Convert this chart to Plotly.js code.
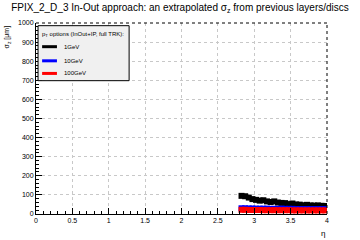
<!DOCTYPE html>
<html><head><meta charset="utf-8">
<script src="https://cdn.plot.ly/plotly-3.0.1.min.js"></script>
<style>html,body{margin:0;padding:0;background:#fff}#c{width:360px;height:240px}</style>
</head><body><div id="c"></div>
<script>
const eta = [2.825,2.875,2.925,2.975,3.025,3.075,3.125,3.175,3.225,3.275,3.325,3.375,3.425,3.475,3.525,3.575,3.625,3.675,3.725,3.775,3.825,3.875,3.925,3.975];
const sig1GeV = [95,93,86,78,74,70,72,66,63,66,60,58,57,52,55,50,49,46,48,45,44,45,43,42];
const sig10GeV = [30,30,29,29,28,28,28,28,27,27,27,28,27,27,27,26,26,26,26,26,26,26,26,26];
const sig100GeV = [22,22,21,21,21,21,20,20,20,20,20,20,20,20,19,19,19,19,19,19,19,19,19,19];
const seriesNames = ['1GeV','10GeV','100GeV'];
const colors = ['#000000','#0000ff','#ff0000'];
const ys = [sig1GeV, sig10GeV, sig100GeV];
const legendTitle = 'p<sub>T</sub> options (InOut+IP, full TRK):';

const FONT = 'Liberation Sans, Arial, sans-serif';
const traces = ys.map((y,i)=>({
  x: eta, y: y, name: seriesNames[i], type:'scatter', mode:'markers',
  marker:{symbol:'square', size:6, color:colors[i], line:{width:0}},
  showlegend:false
}));

const axBase = {
  showline:true, linecolor:'#000', linewidth:1, mirror:false,
  ticks:'inside', ticklen:6, tickcolor:'#000', tickwidth:1,
  showgrid:true, gridcolor:'#c8c8c8', griddash:'dot', gridwidth:1,
  zeroline:false, tickfont:{family:FONT, size:7, color:'#000'}
};

// manual legend (paper coords)
const legBox = {x0:0.007, x1:0.32, y0:0.698, y1:0.986};
const legLineX = [0.021, 0.072];
const legTextX = 0.088;
const legY = [0.876, 0.802, 0.736];

const shapes = [
  {type:'line', xref:'paper', yref:'paper', x0:0, x1:1, y0:1, y1:1, line:{color:'#000', width:1, dash:'dot'}},
  {type:'line', xref:'paper', yref:'paper', x0:1, x1:1, y0:0, y1:1, line:{color:'#000', width:1, dash:'dot'}},
  {type:'rect', xref:'paper', yref:'paper', x0:legBox.x0, x1:legBox.x1, y0:legBox.y0, y1:legBox.y1,
    fillcolor:'#f0f0f0', line:{color:'#000', width:1}, layer:'above'}
];
const annotations = [
  {text:'σ<sub>z</sub> [μm]', xref:'paper', yref:'paper', x:-0.1, y:1, xanchor:'center', yanchor:'top', textangle:-90, showarrow:false,
    font:{family:FONT, size:7, color:'#000'}},
  {text:'η', xref:'paper', yref:'paper', x:1, y:-0.07, xanchor:'right', yanchor:'top', showarrow:false,
    font:{family:FONT, size:8, color:'#000'}},
  {text:legendTitle, xref:'paper', yref:'paper', x:0.014, y:0.942, xanchor:'left', yanchor:'middle', showarrow:false,
    font:{family:FONT, size:6, color:'#000'}}
];
seriesNames.forEach((n,i)=>{
  shapes.push({type:'line', xref:'paper', yref:'paper', x0:legLineX[0], x1:legLineX[1], y0:legY[i], y1:legY[i],
    line:{color:colors[i], width:3}, layer:'above'});
  annotations.push({text:n, xref:'paper', yref:'paper', x:legTextX, y:legY[i], xanchor:'left', yanchor:'middle', showarrow:false,
    font:{family:FONT, size:6, color:'#000'}});
});

const layout = {
  width:360, height:240,
  margin:{l:36, r:33, t:23, b:26},
  paper_bgcolor:'#fff', plot_bgcolor:'#fff',
  title:{text:'FPIX_2_D_3 In-Out approach: an extrapolated σ<sub>z</sub> from previous layers/discs',
    font:{family:FONT, size:10, color:'#000'}, x:0.5, xanchor:'center', y:0.985, yanchor:'top'},
  xaxis: Object.assign({}, axBase, {range:[0,4], dtick:0.5, tick0:0,
    minor:{ticks:'inside', ticklen:3, dtick:0.1, tickcolor:'#000', showgrid:false}}),
  yaxis: Object.assign({}, axBase, {range:[0,1000], dtick:100, tick0:0,
    minor:{ticks:'inside', ticklen:3, dtick:20, tickcolor:'#000', showgrid:false}}),
  showlegend:false,
  shapes: shapes,
  annotations: annotations
};
Plotly.newPlot('c', traces, layout, {staticPlot:true, displayModeBar:false});
</script></body></html>
